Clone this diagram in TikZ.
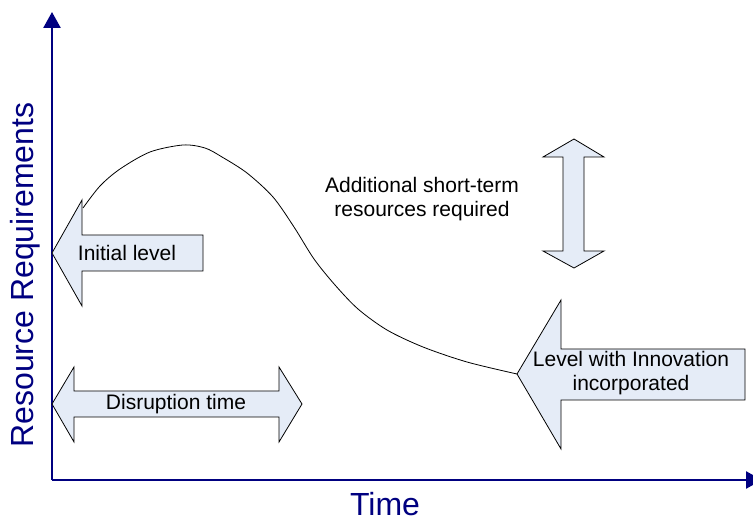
\documentclass[tikz,border=0pt]{standalone}
\usepackage{fontspec}
\setmainfont{Liberation Sans}
\usetikzlibrary{arrows.meta, positioning}
\definecolor{AxisBlue}{RGB}{0, 0, 128}
\definecolor{ArrowFill}{RGB}{229, 236, 247}

\begin{document}
\begin{tikzpicture}[
		x=0.5pt, y=-0.5pt,
		axis/.style={AxisBlue, line width=1.25pt, -{Triangle[width=8.5pt, length=8pt]}},
		axislabel/.style={text=AxisBlue, font=\fontsize{16}{19}\selectfont, inner sep=0pt},
		blockarrow/.style={draw=black, fill=ArrowFill, line width=0.4pt, line join=miter},
		label/.style={font=\fontsize{10.5}{12}\selectfont, align=center, inner sep=0pt},
		curve/.style={black, line width=0.4pt}
		]
		\useasboundingbox (0,0) rectangle (753,522);
		
		% axes
		\coordinate (origin) at (52,480);
		\coordinate (ytop) at (52,12);
		\coordinate (xend) at (762,480);
		\draw [axis] (origin) -- (ytop);
		\draw [axis] (origin) -- (xend);
		\node[axislabel, rotate=90] (ylabel) at (25,275) {Resource Requirements};
		\node[axislabel] (xlabel) at (385,504) {Time};
		
		% block arrows
		\draw [blockarrow] (52,253) -- (82,200) -- (82,235) -- (203,235) -- (203,271) -- (82,271) -- (82,306) -- cycle;
		\draw [blockarrow] (52,404) -- (74,367) -- (74,391) -- (279,391) -- (279,367) -- (302,404)
			-- (279,442) -- (279,417) -- (74,417) -- (74,442) -- cycle;
		\draw [blockarrow] (574,139) -- (604,157) -- (584,157) -- (584,251) -- (604,251) -- (574,268)
			-- (543,251) -- (563,251) -- (563,157) -- (543,157) -- cycle;
		\draw [blockarrow] (517,374) -- (561,300) -- (561,349) -- (745,349) -- (745,400) -- (561,400) -- (561,449) -- cycle;
		
		% resource curve
		\draw [curve] plot[smooth] coordinates {(83,208) (100,186) (120,169) (150,152) (183,145) (205,148)
			(222,157) (247,173) (273,197) (294,227) (314,259) (335,285) (358,309) (387,330) (423,347)
			(467,362) (517,374)};
		
		% texts
		\node[label] (initial) at (127,253) {Initial level};
		\node[label] (disruption) at (176,404) {Disruption time};
		\node[label] (innovation) at (631,373) {Level with Innovation\\incorporated};
		\node[label] (additional) at (422,199) {Additional short-term\\resources required};
	\end{tikzpicture}
\end{document}
